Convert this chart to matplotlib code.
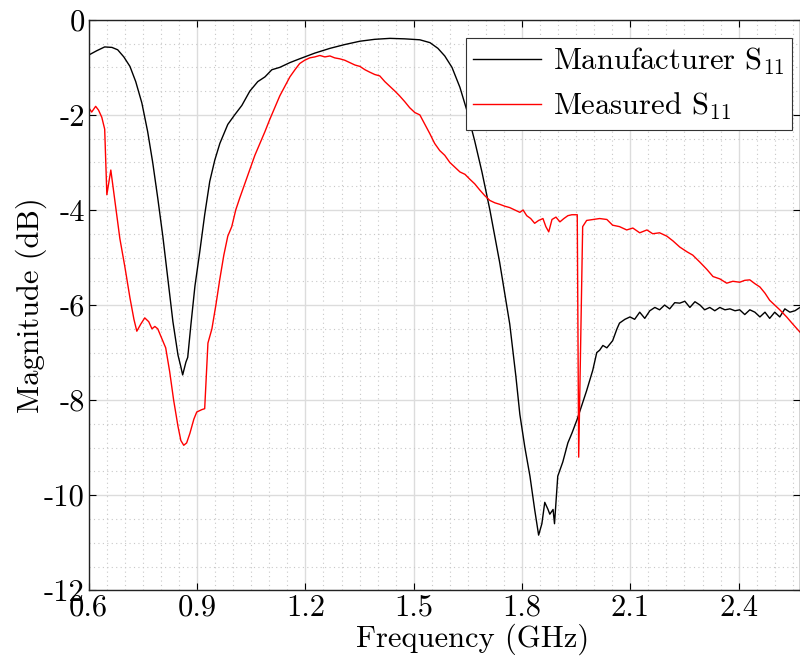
import matplotlib
matplotlib.use("Agg")
import matplotlib.pyplot as plt
from matplotlib.ticker import MultipleLocator

plt.rcParams['font.family'] = ['cmr10', 'DejaVu Serif']
plt.rcParams['mathtext.fontset'] = 'cm'
plt.rcParams['axes.unicode_minus'] = False

# Manufacturer S11 (GHz, dB)
man_f = [0.600, 0.622, 0.644, 0.664, 0.680, 0.697, 0.714, 0.730, 0.747, 0.763,
         0.777, 0.791, 0.805, 0.819, 0.833, 0.847, 0.855, 0.860, 0.869, 0.874,
         0.883, 0.894, 0.907, 0.921, 0.935, 0.949, 0.963, 0.985, 1.004, 1.024,
         1.046, 1.068, 1.088, 1.107, 1.129, 1.157, 1.184, 1.226, 1.268, 1.309,
         1.351, 1.392, 1.434, 1.475, 1.517, 1.545, 1.567, 1.586, 1.606, 1.628,
         1.647, 1.669, 1.689, 1.711, 1.738, 1.766, 1.783, 1.794, 1.808, 1.822,
         1.835, 1.846, 1.855, 1.863, 1.872, 1.877, 1.886, 1.890, 1.899, 1.913,
         1.927, 1.938, 1.952, 1.966, 1.979, 1.996, 2.007, 2.015, 2.024, 2.035,
         2.051, 2.063, 2.070, 2.085, 2.099, 2.112, 2.126, 2.140, 2.154, 2.168,
         2.181, 2.195, 2.209, 2.223, 2.237, 2.251, 2.265, 2.279, 2.293, 2.306,
         2.320, 2.334, 2.348, 2.362, 2.376, 2.390, 2.403, 2.417, 2.431, 2.445,
         2.459, 2.473, 2.486, 2.500, 2.514, 2.528, 2.542, 2.556, 2.570]
man_db = [-0.74, -0.65, -0.57, -0.58, -0.63, -0.78, -0.98, -1.30, -1.75, -2.35,
          -3.0, -3.75, -4.55, -5.45, -6.35, -7.05, -7.3, -7.47, -7.2, -7.1,
          -6.4, -5.6, -4.9, -4.1, -3.4, -2.95, -2.6, -2.2, -2.0, -1.8,
          -1.5, -1.3, -1.2, -1.05, -1.0, -0.9, -0.82, -0.7, -0.6, -0.52,
          -0.45, -0.41, -0.39, -0.40, -0.42, -0.48, -0.6, -0.76, -1.0, -1.42,
          -1.9, -2.55, -3.2, -4.0, -5.1, -6.4, -7.5, -8.3, -9.0, -9.6,
          -10.3, -10.84, -10.6, -10.15, -10.3, -10.4, -10.3, -10.6, -9.6, -9.3,
          -8.9, -8.7, -8.42, -8.1, -7.8, -7.37, -7.0, -6.95, -6.85, -6.9,
          -6.75, -6.5, -6.38, -6.3, -6.25, -6.3, -6.15, -6.28, -6.12, -6.05,
          -6.1, -6.0, -6.08, -5.95, -5.96, -5.92, -6.05, -5.93, -6.0, -6.1,
          -6.05, -6.12, -6.05, -6.1, -6.08, -6.12, -6.1, -6.2, -6.1, -6.15,
          -6.25, -6.15, -6.28, -6.15, -6.25, -6.08, -6.15, -6.12, -6.05]

# Measured S11 (GHz, dB)
mea_f = [0.600, 0.608, 0.619, 0.627, 0.636, 0.644, 0.650, 0.661, 0.672, 0.686,
         0.700, 0.714, 0.725, 0.733, 0.744, 0.755, 0.766, 0.775, 0.783, 0.791,
         0.802, 0.813, 0.824, 0.835, 0.847, 0.855, 0.863, 0.871, 0.880, 0.891,
         0.899, 0.913, 0.921, 0.930, 0.941, 0.952, 0.963, 0.974, 0.985, 0.996,
         1.007, 1.018, 1.032, 1.046, 1.060, 1.074, 1.088, 1.101, 1.115, 1.129,
         1.143, 1.157, 1.171, 1.184, 1.198, 1.212, 1.226, 1.240, 1.254, 1.268,
         1.281, 1.295, 1.309, 1.323, 1.337, 1.351, 1.365, 1.378, 1.392, 1.406,
         1.420, 1.434, 1.448, 1.461, 1.475, 1.489, 1.503, 1.517, 1.531, 1.545,
         1.558, 1.572, 1.586, 1.600, 1.614, 1.628, 1.642, 1.655, 1.669, 1.683,
         1.697, 1.711, 1.725, 1.738, 1.752, 1.766, 1.780, 1.794, 1.803, 1.813,
         1.824, 1.835, 1.846, 1.858, 1.866, 1.874, 1.883, 1.894, 1.905, 1.916,
         1.927, 1.938, 1.949, 1.953, 1.957, 1.968, 1.979, 1.996, 2.015, 2.035,
         2.051, 2.070, 2.090, 2.107, 2.126, 2.146, 2.162, 2.181, 2.201, 2.218,
         2.237, 2.257, 2.273, 2.293, 2.312, 2.329, 2.348, 2.367, 2.384, 2.403,
         2.417, 2.431, 2.445, 2.459, 2.473, 2.486, 2.500, 2.514, 2.533, 2.550,
         2.570]
mea_db = [-1.85, -1.94, -1.82, -1.9, -2.05, -2.3, -3.68, -3.16, -3.8, -4.6,
          -5.2, -5.85, -6.3, -6.55, -6.4, -6.27, -6.35, -6.5, -6.45, -6.5,
          -6.7, -6.9, -7.4, -8.0, -8.55, -8.85, -8.95, -8.9, -8.7, -8.4,
          -8.25, -8.2, -8.18, -6.8, -6.5, -6.0, -5.45, -4.95, -4.55, -4.35,
          -4.0, -3.75, -3.45, -3.15, -2.85, -2.6, -2.35, -2.1, -1.85, -1.6,
          -1.4, -1.2, -1.05, -0.92, -0.85, -0.8, -0.78, -0.75, -0.78, -0.76,
          -0.8, -0.82, -0.85, -0.9, -0.95, -0.98, -1.05, -1.1, -1.15, -1.18,
          -1.3, -1.4, -1.5, -1.6, -1.72, -1.85, -1.95, -2.0, -2.2, -2.4,
          -2.6, -2.75, -2.85, -3.0, -3.1, -3.2, -3.25, -3.35, -3.45, -3.58,
          -3.7, -3.8, -3.85, -3.88, -3.92, -3.95, -4.0, -4.05, -4.0, -4.12,
          -4.18, -4.28, -4.22, -4.18, -4.35, -4.46, -4.2, -4.15, -4.25, -4.18,
          -4.12, -4.1, -4.1, -4.1, -9.2, -4.35, -4.22, -4.2, -4.18, -4.2,
          -4.32, -4.35, -4.42, -4.38, -4.48, -4.42, -4.5, -4.48, -4.55, -4.65,
          -4.78, -4.88, -4.95, -5.1, -5.25, -5.4, -5.45, -5.54, -5.5, -5.52,
          -5.48, -5.47, -5.55, -5.62, -5.75, -5.9, -6.0, -6.1, -6.25, -6.4,
          -6.57]

xticks = [0.6, 0.9, 1.2, 1.5, 1.8, 2.1, 2.4]
yticks = [0, -2, -4, -6, -8, -10, -12]

fig = plt.figure(figsize=(8, 6.61), dpi=100)
ax = fig.add_axes([0.111, 0.107, 0.889, 0.863])

ax.plot(man_f, man_db, color='black', lw=1.0, label='Manufacturer S$_{11}$')
ax.plot(mea_f, mea_db, color='red', lw=1.0, label='Measured S$_{11}$')

ax.set_xlim(0.6, 2.57)
ax.set_ylim(-12, 0)
ax.set_xticks(xticks)
ax.set_xticklabels([str(t) for t in xticks])
ax.set_yticks(yticks)
ax.set_yticklabels([str(t) for t in yticks])
ax.xaxis.set_minor_locator(MultipleLocator(0.05))
ax.yaxis.set_minor_locator(MultipleLocator(0.5))

ax.grid(which='major', color='#dcdcdc', lw=1.0, ls='-')
ax.grid(which='minor', color='#c8c8c8', lw=0.8, ls=(0, (1, 3)))
ax.set_axisbelow(True)

ax.tick_params(which='major', direction='in', length=5, top=True, right=True,
               labelsize=22, pad=3, width=0.8)
ax.tick_params(which='minor', length=0)
for s in ax.spines.values():
    s.set_linewidth(1.0)
    s.set_color('#222222')

ax.set_xlabel('Frequency (GHz)', fontsize=22, labelpad=3)
ax.xaxis.set_label_coords(0.54, -0.058, transform=ax.transAxes)
ax.xaxis.label.set_va('top')
ax.set_ylabel('Magnitude (dB)', fontsize=22, labelpad=-2)

leg = ax.legend(loc='upper right', bbox_to_anchor=(0.989, 0.968), fontsize=22,
                fancybox=False, framealpha=1, edgecolor='#333333',
                borderaxespad=0, handlelength=2.2, handletextpad=0.4,
                borderpad=0.25, labelspacing=0.45)
leg.get_frame().set_linewidth(0.8)

fig.savefig('out.png', dpi=100)
